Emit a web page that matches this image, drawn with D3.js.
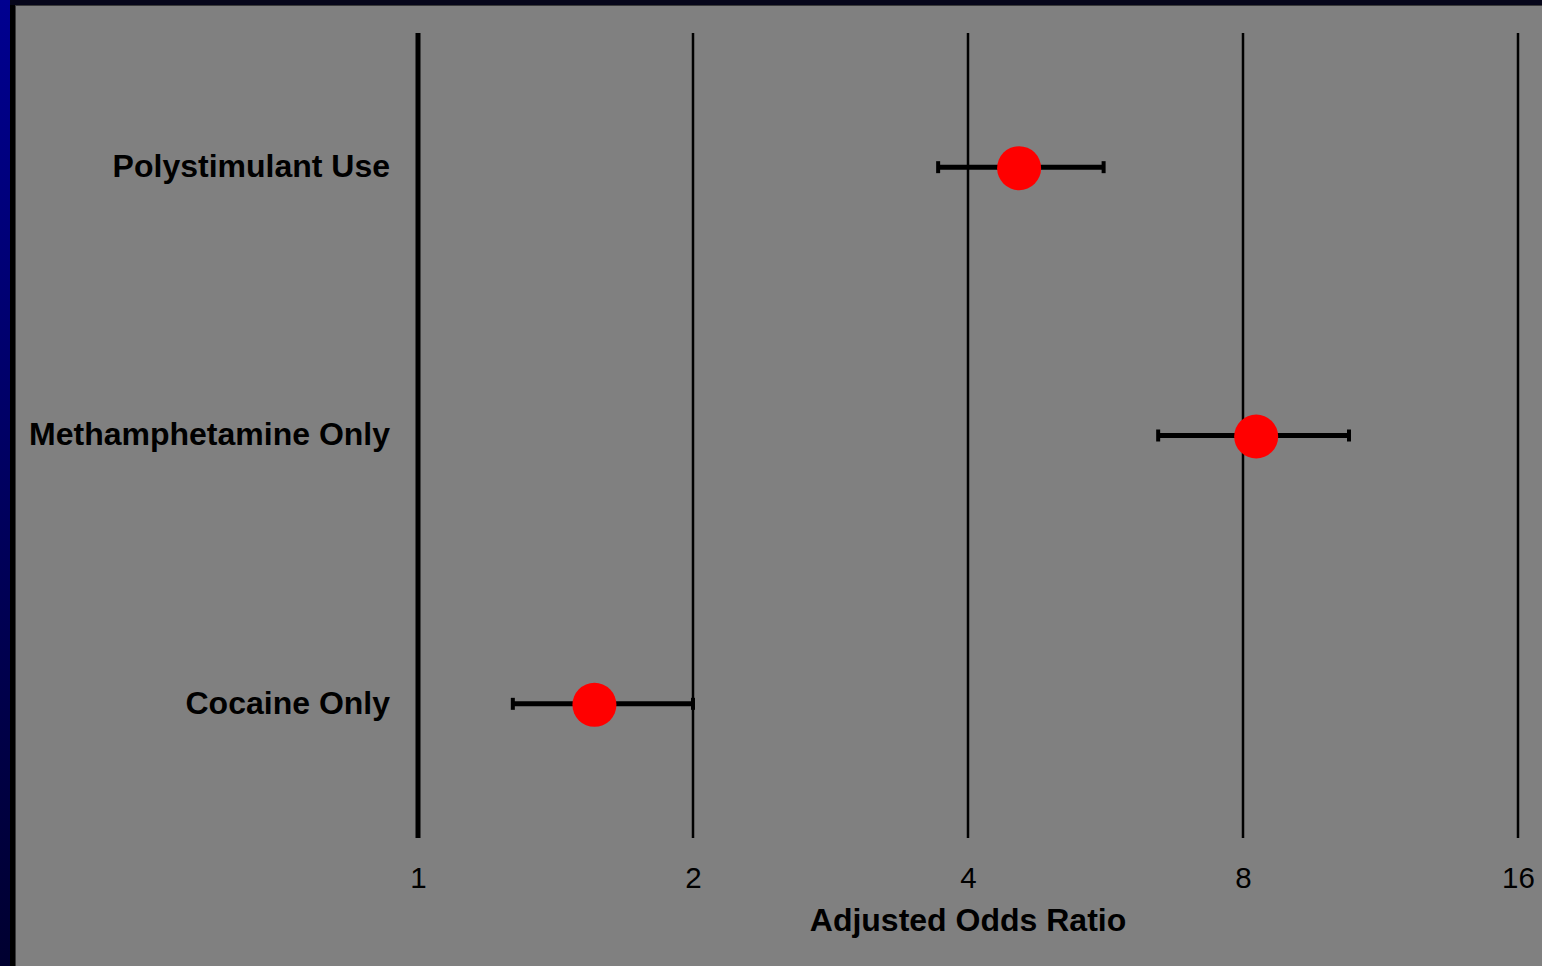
<!DOCTYPE html>
<html>
<head>
<meta charset="utf-8">
<script src="https://cdn.jsdelivr.net/npm/d3@7"></script>
<style>
  html, body { margin: 0; padding: 0; background: #808080; }
  svg { display: block; }
</style>
</head>
<body>
<svg id="chart" width="1542" height="966"></svg>
<script>
// Adjusted odds ratios with 95% confidence intervals
const categories = ["Polystimulant Use", "Methamphetamine Only", "Cocaine Only"];
const oddsRatio  = [4.55, 8.27, 1.56];
const ciLower    = [3.71, 6.46, 1.27];
const ciUpper    = [5.63, 10.45, 2.0];
const tickValues = [1, 2, 4, 8, 16];
const axisTitle  = "Adjusted Odds Ratio";

const W = 1542, H = 966;
const svg = d3.select("#chart");

// slide frame: blue gradient strip on the left, dark band on top
const defs = svg.append("defs");
const grad = defs.append("linearGradient").attr("id", "strip")
  .attr("x1", 0).attr("y1", 0).attr("x2", 0).attr("y2", 1);
grad.append("stop").attr("offset", "0%").attr("stop-color", "#000090");
grad.append("stop").attr("offset", "100%").attr("stop-color", "#000030");

svg.append("rect").attr("x", 0).attr("y", 0).attr("width", W).attr("height", H).attr("fill", "#808080");
svg.append("rect").attr("x", 0).attr("y", 0).attr("width", 10).attr("height", H).attr("fill", "url(#strip)");
svg.append("rect").attr("x", 10).attr("y", 0).attr("width", 5).attr("height", H).attr("fill", "#000000");
svg.append("rect").attr("x", 10).attr("y", 0).attr("width", W - 10).attr("height", 5).attr("fill", "#06061a");
svg.append("line").attr("x1", 15).attr("x2", W).attr("y1", 5.5).attr("y2", 5.5)
  .attr("stroke", "#3a3a3a").attr("stroke-width", 1);
svg.append("line").attr("x1", 15.5).attr("x2", 15.5).attr("y1", 5).attr("y2", H)
  .attr("stroke", "#3a3a3a").attr("stroke-width", 1);

// scales
const plotTop = 33, plotBottom = 838;
const x = d3.scaleLog().base(2).domain([1, 16]).range([418, 1518]);
const y = d3.scaleBand().domain(categories).range([plotTop, plotBottom]);
const yc = c => y(c) + y.bandwidth() / 2;

// vertical reference lines at each tick
svg.append("g").selectAll("line").data(tickValues).join("line")
  .attr("x1", d => x(d)).attr("x2", d => x(d))
  .attr("y1", plotTop).attr("y2", plotBottom)
  .attr("stroke", "#000")
  .attr("stroke-width", d => d === 1 ? 5 : 2.5);

// x axis tick labels
const xAxis = d3.axisBottom(x).tickValues(tickValues).tickFormat(d3.format("d")).tickSize(0).tickPadding(0);
const gx = svg.append("g").attr("transform", `translate(0,${plotBottom})`).call(xAxis);
gx.select(".domain").remove();
gx.selectAll("text")
  .attr("y", 50).attr("dy", 0)
  .attr("fill", "#000")
  .style("font-family", "'Liberation Sans', Arial, sans-serif")
  .style("font-size", "29.5px");

// axis title
svg.append("text")
  .attr("x", x(4)).attr("y", 931)
  .attr("text-anchor", "middle")
  .style("font-family", "'Liberation Sans', Arial, sans-serif")
  .style("font-size", "32px").style("font-weight", "bold")
  .attr("fill", "#000")
  .text(axisTitle);

// category labels
const yAxis = d3.axisLeft(y).tickSize(0).tickPadding(0);
const gy = svg.append("g").attr("transform", "translate(390,0)").call(yAxis);
gy.select(".domain").remove();
gy.selectAll("text")
  .attr("x", 0).attr("dy", "0.31em")
  .attr("fill", "#000")
  .style("font-family", "'Liberation Sans', Arial, sans-serif")
  .style("font-size", "32px").style("font-weight", "bold");

// confidence intervals and point estimates
const rows = categories.map((c, i) => ({ c, or: oddsRatio[i], lo: ciLower[i], hi: ciUpper[i] }));
const g = svg.append("g");
g.selectAll("line.ci").data(rows).join("line").attr("class", "ci")
  .attr("x1", d => x(d.lo)).attr("x2", d => x(d.hi))
  .attr("y1", d => yc(d.c)).attr("y2", d => yc(d.c))
  .attr("stroke", "#000").attr("stroke-width", 5);
g.selectAll("line.capL").data(rows).join("line").attr("class", "capL")
  .attr("x1", d => x(d.lo)).attr("x2", d => x(d.lo))
  .attr("y1", d => yc(d.c) - 6).attr("y2", d => yc(d.c) + 6)
  .attr("stroke", "#000").attr("stroke-width", 4);
g.selectAll("line.capR").data(rows).join("line").attr("class", "capR")
  .attr("x1", d => x(d.hi)).attr("x2", d => x(d.hi))
  .attr("y1", d => yc(d.c) - 6).attr("y2", d => yc(d.c) + 6)
  .attr("stroke", "#000").attr("stroke-width", 4);
g.selectAll("circle").data(rows).join("circle")
  .attr("cx", d => x(d.or)).attr("cy", d => yc(d.c) + 1)
  .attr("r", 22).attr("fill", "#ff0000");
</script>
</body>
</html>
